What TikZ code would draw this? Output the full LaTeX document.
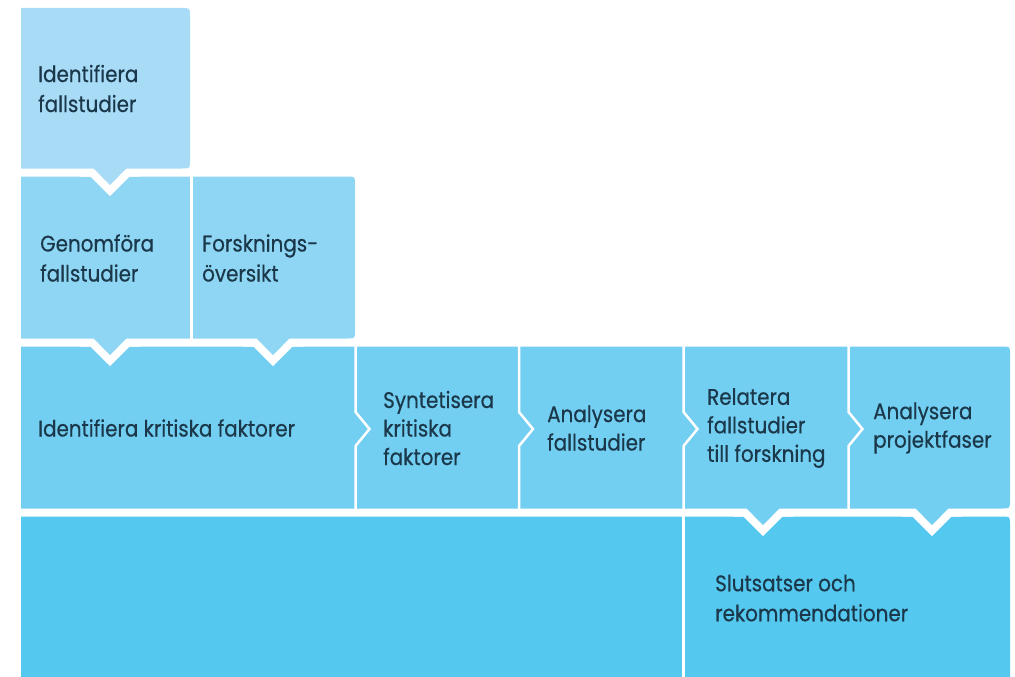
\documentclass[tikz,border=0pt]{standalone}
\usepackage{fontspec}
\setmainfont[FakeStretch=0.88,FakeBold=0.4]{Poppins}
\definecolor{rowA}{HTML}{A8DCF6}
\definecolor{rowB}{HTML}{8ED6F3}
\definecolor{rowC}{HTML}{72CFF2}
\definecolor{rowD}{HTML}{55C8F0}
\definecolor{ink}{HTML}{1B374A}
\begin{document}
\begin{tikzpicture}[x=1pt,y=-1pt,
  lbl/.style={anchor=west,align=left,inner sep=0pt,text=ink,font=\fontsize{22.6}{30}\selectfont},
  lblc/.style={lbl,font=\fontsize{22.6}{28.5}\selectfont},
  vgap/.style={draw=white,line width=8pt,miter limit=10,line join=miter},
  sep/.style={draw=white,line width=2.5pt,line join=miter}]
\useasboundingbox (0,0) rectangle (1015,677);
% ---- row 4
\fill[rowD] (21,516.5) -- (1002,516.5) .. controls (1010,516.5) .. (1010,524.5) -- (1010,690) -- (21,690) -- cycle;
% notches row3 -> row4
\draw[vgap] (733,512.5) -- (745,512.5) -- (763,530.5) -- (781,512.5) -- (793,512.5);
\draw[vgap] (902,512.5) -- (914,512.5) -- (932,530.5) -- (950,512.5) -- (962,512.5);
% ---- row 3
\fill[rowC] (21,346.5) -- (1002,346.5) .. controls (1010,346.5) .. (1010,354.5) -- (1010,500.5) .. controls (1010,508.5) .. (1002,508.5)
  -- (948.3,508.5) -- (932,524.8) -- (915.7,508.5)
  -- (779.3,508.5) -- (763,524.8) -- (746.7,508.5)
  -- (21,508.5) -- cycle;
% notches row2 -> row3
\draw[vgap] (80,342.5) -- (92,342.5) -- (110,360.5) -- (128,342.5) -- (140,342.5);
\draw[vgap] (243,342.5) -- (255,342.5) -- (273,360.5) -- (291,342.5) -- (303,342.5);
% ---- row 2
\fill[rowB] (21,176.5) -- (347,176.5) .. controls (355,176.5) .. (355,184.5) -- (355,330.5) .. controls (355,338.5) .. (347,338.5)
  -- (289.3,338.5) -- (273,354.8) -- (256.7,338.5)
  -- (126.3,338.5) -- (110,354.8) -- (93.7,338.5)
  -- (21,338.5) -- cycle;
% notch row1 -> row2
\draw[vgap] (80,172.5) -- (92,172.5) -- (110,190.5) -- (128,172.5) -- (140,172.5);
% ---- row 1
\fill[rowA] (21,8) -- (182,8) .. controls (190,8) .. (190,16) -- (190,160.5) .. controls (190,168.5) .. (182,168.5)
  -- (126.3,168.5) -- (110,184.8) -- (93.7,168.5) -- (21,168.5) -- cycle;
% ---- vertical separators
\draw[sep] (191.5,176) -- (191.5,339);
\draw[sep] (355.5,346) -- (355.5,412) -- (369.5,429) -- (355.5,446) -- (355.5,509);
\draw[sep] (519,346) -- (519,412) -- (533,429) -- (519,446) -- (519,509);
\draw[sep] (683.5,346) -- (683.5,412) -- (697.5,429) -- (683.5,446) -- (683.5,509);
\draw[sep] (848.5,346) -- (848.5,412) -- (862.5,429) -- (848.5,446) -- (848.5,509);
\draw[sep] (683.5,516) -- (683.5,678);
% ---- texts
\node[lbl] (t1) at (38,88.5) {Identifiera\\fallstudier};
\node[lbl] (t2) at (40,258) {Genomföra\\fallstudier};
\node[lbl] (t3) at (202,258) {Forsknings-\\översikt};
\node[lbl] (t4) at (38,428) {Identifiera kritiska faktorer};
\node[lblc] (t5) at (383,428) {Syntetisera\\kritiska\\faktorer};
\node[lblc] (t6) at (547,428) {Analysera\\fallstudier};
\node[lblc] (t7) at (707,428) {Relatera\\fallstudier\\till forskning};
\node[lblc] (t8) at (873,428) {Analysera\\projektfaser};
\node[lbl] (t9) at (715,598) {Slutsatser och\\rekommendationer};
\end{tikzpicture}
\end{document}
